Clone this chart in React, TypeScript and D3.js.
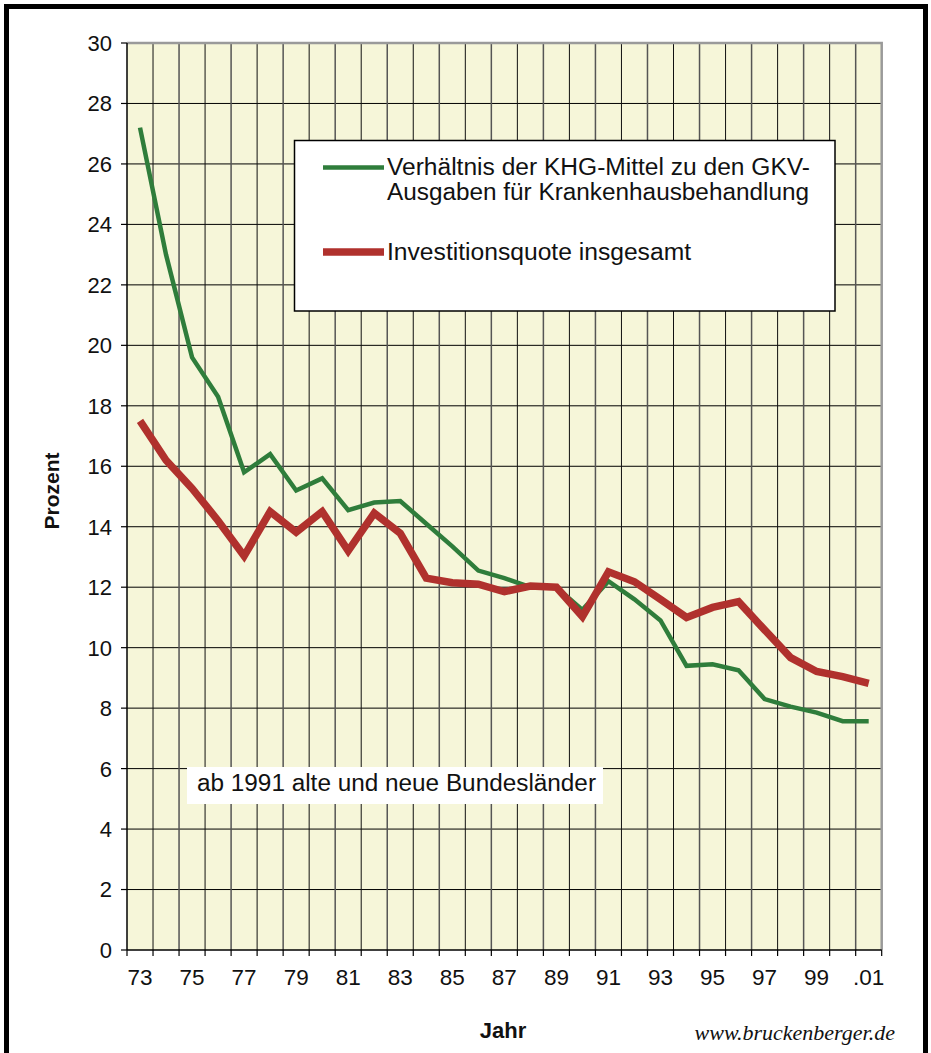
import React from 'react';
import * as d3 from 'd3';

const width = 931;
const height = 1053;
const margin = {top: 43, right: 48, bottom: 103, left: 127};
const green = '#2f7d3b';
const red = '#b0312d';
const plotBg = '#f6f6d9';

const years = ['73', '74', '75', '76', '77', '78', '79', '80', '81', '82', '83', '84', '85', '86', '87',
    '88', '89', '90', '91', '92', '93', '94', '95', '96', '97', '98', '99', '00', '01'];
const yearLabels = ['73', '75', '77', '79', '81', '83', '85', '87', '89', '91', '93', '95', '97', '99', '.01'];
// Verhältnis der KHG-Mittel zu den GKV-Ausgaben
const khgRatio = [27.2, 23.0, 19.6, 18.3, 15.8, 16.4, 15.2, 15.6, 14.55, 14.8, 14.85, 14.1, 13.35, 12.55, 12.3,
    12.0, 12.0, 11.25, 12.2, 11.6, 10.9, 9.4, 9.45, 9.25, 8.3, 8.05, 7.85, 7.57, 7.57];
// Investitionsquote insgesamt
const invQuote = [17.5, 16.2, 15.27, 14.2, 13.03, 14.5, 13.82, 14.5, 13.2, 14.45, 13.78, 12.3, 12.15, 12.1, 11.85,
    12.04, 12.0, 11.03, 12.51, 12.18, 11.6, 11.0, 11.33, 11.52, 10.59, 9.67, 9.21, 9.04, 8.82];
const yTicks = [0, 2, 4, 6, 8, 10, 12, 14, 16, 18, 20, 22, 24, 26, 28, 30];

const labelFont = '"Liberation Sans", Arial, Helvetica, sans-serif';

export default function App() {
    const x0 = margin.left;
    const x1 = width - margin.right - 1.3;
    const y0 = height - margin.bottom;
    const y1 = margin.top;

    const xScale = d3.scaleBand<string>().domain(years).range([x0, x1]).padding(0);
    const yScale = d3.scaleLinear().domain([0, 30]).range([y0, y1]);
    const bw = xScale.bandwidth();
    const cx = (yr: string) => (xScale(yr) as number) + bw / 2;

    const line = d3.line<number>()
        .x((d, i) => cx(years[i]))
        .y(d => yScale(d));

    // boundaries between categories
    const bounds = d3.range(years.length + 1).map(i => x0 + i * bw);

    return (
        <svg width={width} height={height}
             style={{position: 'absolute', left: 0, top: 0, display: 'block', background: '#fff'}}>
            {/* outer frame */}
            <rect x={6.5} y={6.5} width={919} height={1070} fill='none' stroke='#000' strokeWidth={5}/>

            {/* plot area */}
            <rect x={x0} y={y1} width={x1 - x0} height={y0 - y1} fill={plotBg}/>
            {yTicks.filter(t => t > 0 && t < 30).map(t => (
                <line key={'h' + t} x1={x0} x2={x1} y1={yScale(t)} y2={yScale(t)} stroke='#000' strokeWidth={1}/>
            ))}
            {bounds.slice(1, -1).map((b, i) => (
                <line key={'v' + i} x1={b} x2={b} y1={y1} y2={y0} stroke={i % 2 ? '#555' : '#111'}
                      strokeWidth={i % 2 ? 1.5 : 1}/>
            ))}
            {/* grey top/right border */}
            <path d={`M${x0},${y1}H${x1}V${y0}`} fill='none' stroke='#9a9a9a' strokeWidth={2.5}/>

            {/* axes */}
            <line x1={x0} x2={x0} y1={y1} y2={y0} stroke='#000' strokeWidth={1.5}/>
            <line x1={x0} x2={x1} y1={y0} y2={y0} stroke='#000' strokeWidth={1.5}/>
            {yTicks.map(t => (
                <g key={'yt' + t}>
                    <line x1={x0 - 6} x2={x0} y1={yScale(t)} y2={yScale(t)} stroke='#000' strokeWidth={1.2}/>
                    <text x={112} y={yScale(t)} dy='0.36em' textAnchor='end' fontFamily={labelFont}
                          fontSize={22} fill='#111'>{t}</text>
                </g>
            ))}
            {bounds.map((b, i) => (
                <line key={'xt' + i} x1={b} x2={b} y1={y0} y2={y0 + 6} stroke='#000' strokeWidth={1.2}/>
            ))}
            {yearLabels.map((lab, i) => (
                <text key={'xl' + lab} x={cx(years[i * 2])} y={985} textAnchor='middle' fontFamily={labelFont}
                      fontSize={22.5} fill='#111'>{lab}</text>
            ))}

            {/* series */}
            <path d={line(khgRatio) || ''} fill='none' stroke={green} strokeWidth={4.5} strokeLinejoin='miter'/>
            <path d={line(invQuote) || ''} fill='none' stroke={red} strokeWidth={7.5} strokeLinejoin='miter'/>

            {/* legend */}
            <rect x={294.5} y={140.5} width={540.5} height={170.5} fill='#fff' stroke='#000' strokeWidth={1.5}/>
            <line x1={323} x2={384} y1={167.5} y2={167.5} stroke={green} strokeWidth={4.5}/>
            <line x1={323} x2={384} y1={252} y2={252} stroke={red} strokeWidth={7.5}/>
            <text x={387} y={175} fontFamily={labelFont} fontSize={23} fill='#111'
                  textLength={423} lengthAdjust='spacingAndGlyphs'>
                Verhältnis der KHG-Mittel zu den GKV-
            </text>
            <text x={387} y={200} fontFamily={labelFont} fontSize={23} fill='#111'
                  textLength={422} lengthAdjust='spacingAndGlyphs'>
                Ausgaben für Krankenhausbehandlung
            </text>
            <text x={387} y={260} fontFamily={labelFont} fontSize={23} fill='#111'
                  textLength={304} lengthAdjust='spacingAndGlyphs'>
                Investitionsquote insgesamt
            </text>

            {/* note */}
            <rect x={187} y={767} width={416} height={37} fill='#fff'/>
            <text x={197} y={791} fontFamily={labelFont} fontSize={23} fill='#111'
                  textLength={399} lengthAdjust='spacingAndGlyphs'>
                ab 1991 alte und neue Bundesländer
            </text>

            {/* axis titles */}
            <text transform={`translate(59, ${491}) rotate(-90)`} textAnchor='middle' fontFamily={labelFont}
                  fontSize={21} fontWeight='bold' fill='#111'>Prozent</text>
            <text x={503} y={1038} textAnchor='middle' fontFamily={labelFont} fontSize={22} fontWeight='bold'
                  fill='#111'>Jahr</text>
            <text x={895} y={1040} textAnchor='end' fontFamily='"Liberation Serif", "DejaVu Serif", serif'
                  fontStyle='italic' fontSize={22} fill='#111'>www.bruckenberger.de</text>
        </svg>
    );
}
